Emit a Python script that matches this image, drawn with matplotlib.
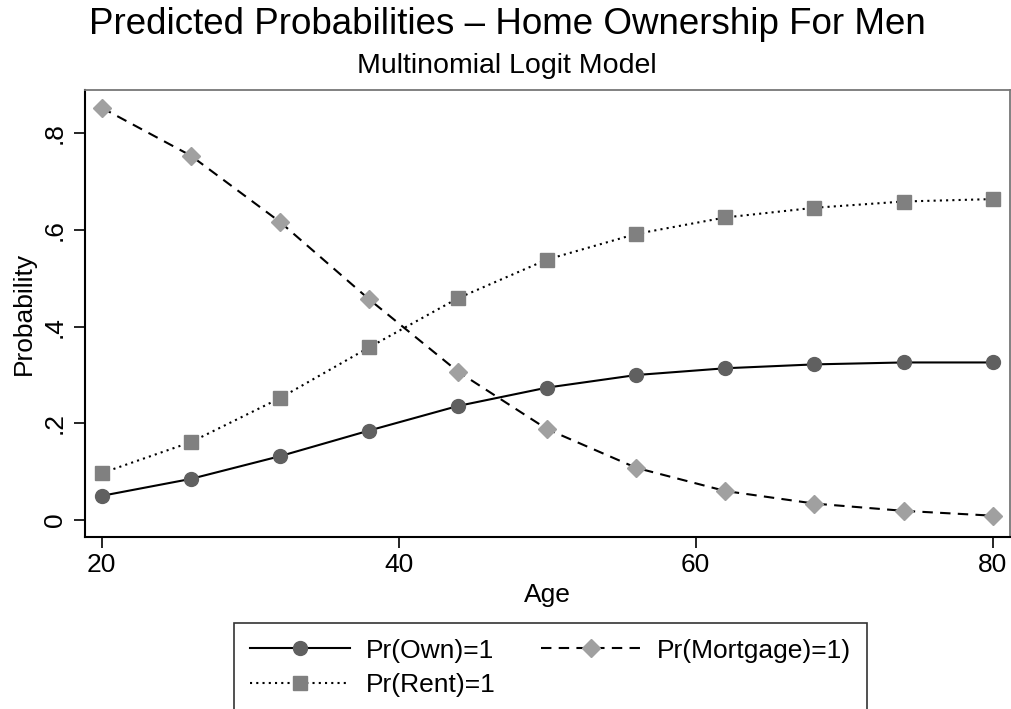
import numpy as np
import matplotlib
matplotlib.use('Agg')
import matplotlib.pyplot as plt

plt.rcParams['font.family'] = ['Liberation Sans', 'DejaVu Sans']

edad = [20, 26, 32, 38, 44, 50, 56, 62, 68, 74, 80]
prOwn = [0.050, 0.085, 0.132, 0.185, 0.236, 0.274, 0.300, 0.314, 0.322, 0.326, 0.326]
prMortgage = [0.853, 0.754, 0.617, 0.457, 0.307, 0.188, 0.108, 0.060, 0.034, 0.019, 0.009]
prRent = [0.097, 0.161, 0.252, 0.357, 0.459, 0.539, 0.592, 0.626, 0.646, 0.659, 0.664]

xticks = [20, 40, 60, 80]
yticks = [0, 0.2, 0.4, 0.6, 0.8]
yticklabels = ['0', '.2', '.4', '.6', '.8']

fig = plt.figure(figsize=(10.12, 7.09), dpi=100)
ax = fig.add_axes([85/1012, 1-536.7/709, (1010-85)/1012, (536.7-90)/709])

lOwn, = ax.plot(edad, prOwn, '-', color='black', lw=1.5, marker='o', ms=10,
                mfc='#606060', mec='#606060', label='Pr(Own)=1')
lMort, = ax.plot(edad, prMortgage, color='black', lw=1.5, ls=(0, (5, 3.5)), marker='D', ms=9,
                 mfc='#a0a0a0', mec='#a0a0a0', label='Pr(Mortgage)=1)')
lRent, = ax.plot(edad, prRent, color='black', lw=1.5, ls=(0, (1, 2)), marker='s', ms=9.5,
                 mfc='#808080', mec='#808080', label='Pr(Rent)=1')

ax.set_xlim(18.88, 81.17)
ax.set_ylim(-0.0345, 0.8897)
ax.set_xticks(xticks)
ax.set_yticks(yticks)
ax.set_yticklabels(yticklabels, rotation=90, va='center')
ax.tick_params(axis='both', labelsize=19, length=8, width=1.2, color='black')
ax.tick_params(axis='y', pad=5)
ax.tick_params(axis='x', pad=4)
for s in ['left', 'bottom']:
    ax.spines[s].set_linewidth(1.5)
    ax.spines[s].set_color('black')
for s in ['top', 'right']:
    ax.spines[s].set_linewidth(1.3)
    ax.spines[s].set_color('#777777')

ax.set_xlabel('Age', fontsize=19, labelpad=4)
ax.set_ylabel('Probability', fontsize=19)
ax.yaxis.set_label_coords((36 - 85) / 925, 0.5)

fig.text(507/1012, 1-25/709, 'Predicted Probabilities – Home Ownership For Men',
         fontsize=26.5, ha='center', va='center')
fig.text(507/1012, 1-66/709, 'Multinomial Logit Model',
         fontsize=20.5, ha='center', va='center')

leg = fig.legend([lOwn, lRent, lMort], ['Pr(Own)=1', 'Pr(Rent)=1', 'Pr(Mortgage)=1)'],
                 ncol=2, loc='upper left', bbox_to_anchor=(234/1012, 1-622.7/709),
                 fontsize=19, frameon=True, fancybox=False, edgecolor='black',
                 handlelength=3.8, handletextpad=0.6, columnspacing=1.7,
                 labelspacing=0.4, borderpad=0.6, borderaxespad=0)
leg.get_frame().set_linewidth(1.2)
for h in leg.legend_handles:
    h.set_linewidth(1.5)

fig.savefig('out.png', dpi=100)
